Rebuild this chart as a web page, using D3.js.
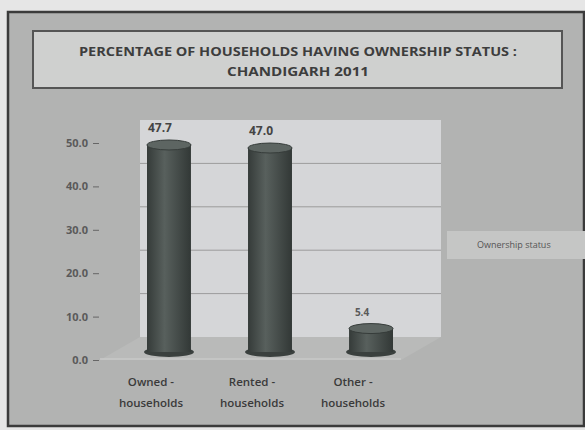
<!DOCTYPE html>
<html>
<head>
<meta charset="utf-8">
<script src="https://cdn.jsdelivr.net/npm/d3@7"></script>
<style>
  body { margin: 0; background: #e6e6e6; }
  svg { display: block; }
</style>
</head>
<body>
<div id="chart"></div>
<script>
// data
const categories = ["Owned - households", "Rented - households", "Other - households"];
const categoryLines = [["Owned -", "households"], ["Rented -", "households"], ["Other -", "households"]];
const values = [47.7, 47.0, 5.4];
const yTicks = [0, 10, 20, 30, 40, 50];
const titleLines = ["PERCENTAGE OF HOUSEHOLDS HAVING OWNERSHIP STATUS :", "CHANDIGARH  2011"];
const legendLabel = "Ownership status";

const W = 585, H = 430;
const depthX = 40, depthY = 23;   // 3d offset of back wall
const barDepth = 8;               // bars sit partway into the depth

const svg = d3.select("#chart")
  .append("svg")
  .attr("width", W)
  .attr("height", H);

// outer frame
svg.append("rect")
  .attr("x", 8).attr("y", 12)
  .attr("width", 576).attr("height", 414)
  .attr("fill", "#b2b3b2")
  .attr("stroke", "#3b3b3b")
  .attr("stroke-width", 2.5);

// title box
svg.append("rect")
  .attr("x", 33).attr("y", 31)
  .attr("width", 529).attr("height", 57)
  .attr("fill", "#cfd0cf")
  .attr("stroke", "#555")
  .attr("stroke-width", 2);

svg.selectAll(".title")
  .data(titleLines)
  .join("text")
  .attr("class", "title")
  .attr("x", 298)
  .attr("y", (d, i) => 56 + i * 20)
  .attr("text-anchor", "middle")
  .attr("font-family", "'Open Sans', sans-serif")
  .attr("font-weight", "bold")
  .attr("font-size", 13)
  .attr("fill", "#3d3d3d")
  .attr("textLength", (d, i) => i === 0 ? 438 : 142)
  .attr("lengthAdjust", "spacingAndGlyphs")
  .text(d => d);

// scales
const y = d3.scaleLinear()
  .domain([0, 50])
  .range([360, 143]);

const x = d3.scaleBand()
  .domain(categories)
  .range([147, 393])
  .paddingInner(0.565)
  .paddingOuter(0);

const wallLeft = 100 + depthX, wallRight = 441;

// floor
svg.append("polygon")
  .attr("points", [
    [100, y(0)], [wallLeft, y(0) - depthY],
    [wallRight, y(0) - depthY], [wallRight - depthX, y(0)]
  ].map(p => p.join(",")).join(" "))
  .attr("fill", "#b9bab9");
svg.append("line")
  .attr("x1", 100).attr("x2", wallRight - depthX)
  .attr("y1", y(0) - 1).attr("y2", y(0) - 1)
  .attr("stroke", "#c8c9c8")
  .attr("stroke-width", 1.5);

// back wall
svg.append("rect")
  .attr("x", wallLeft)
  .attr("y", y(50) - depthY)
  .attr("width", wallRight - wallLeft)
  .attr("height", y(0) - y(50))
  .attr("fill", "#d5d6d8");

svg.selectAll(".grid")
  .data(yTicks.filter(d => d > 0 && d < 50))
  .join("line")
  .attr("class", "grid")
  .attr("x1", wallLeft).attr("x2", wallRight)
  .attr("y1", d => y(d) - depthY).attr("y2", d => y(d) - depthY)
  .attr("stroke", "#9c9c9c")
  .attr("stroke-width", 1);

// y axis
const yAxis = svg.append("g")
  .attr("transform", "translate(99,0)")
  .call(d3.axisLeft(y).tickValues(yTicks).tickFormat(d3.format(".1f")).tickSize(6).tickPadding(5));
yAxis.select(".domain").remove();
yAxis.selectAll("line").attr("stroke", "#666");
yAxis.selectAll("text")
  .attr("font-family", "'Open Sans', sans-serif")
  .attr("font-weight", "bold")
  .attr("font-size", 11)
  .attr("fill", "#5a5a5a");

// cylinder bars
const defs = svg.append("defs");
const grad = defs.append("linearGradient")
  .attr("id", "cyl")
  .attr("x1", "0%").attr("x2", "100%");
grad.append("stop").attr("offset", "0%").attr("stop-color", "#353b39");
grad.append("stop").attr("offset", "40%").attr("stop-color", "#58605d");
grad.append("stop").attr("offset", "100%").attr("stop-color", "#323836");

const bw = x.bandwidth();
const ry = 5;
const bars = svg.selectAll(".bar")
  .data(values)
  .join("g")
  .attr("class", "bar");

bars.append("ellipse")
  .attr("cx", (d, i) => x(categories[i]) + bw / 2)
  .attr("cy", y(0) - barDepth)
  .attr("rx", bw / 2 + 3)
  .attr("ry", ry)
  .attr("fill", "#3a403e");

bars.append("rect")
  .attr("x", (d, i) => x(categories[i]))
  .attr("y", d => y(d) - barDepth)
  .attr("width", bw)
  .attr("height", d => y(0) - y(d))
  .attr("fill", "url(#cyl)");

bars.append("ellipse")
  .attr("cx", (d, i) => x(categories[i]) + bw / 2)
  .attr("cy", d => y(d) - barDepth)
  .attr("rx", bw / 2)
  .attr("ry", ry)
  .attr("fill", "#5d6562")
  .attr("stroke", "#363c3a")
  .attr("stroke-width", 1);

// value labels
svg.selectAll(".val")
  .data(values)
  .join("text")
  .attr("class", "val")
  .attr("x", (d, i) => x(categories[i]) + bw / 2 - 9)
  .attr("y", d => y(d) - 21)
  .attr("text-anchor", "middle")
  .attr("font-family", "'Open Sans', sans-serif")
  .attr("font-weight", "bold")
  .attr("font-size", (d, i) => i === 2 ? 10 : 12)
  .attr("fill", (d, i) => i === 2 ? "#5a5a5a" : "#444")
  .text(d => d3.format(".1f")(d));

// category labels
const cats = svg.selectAll(".cat")
  .data(categoryLines)
  .join("text")
  .attr("class", "cat")
  .attr("text-anchor", "middle")
  .attr("font-family", "'Open Sans', sans-serif")
  .attr("font-weight", 600)
  .attr("font-size", 11.5)
  .attr("fill", "#3a3a3a");
cats.selectAll("tspan")
  .data((d, i) => d.map(t => ({ t, i })))
  .join("tspan")
  .attr("x", d => x(categories[d.i]) + bw / 2 - 18)
  .attr("y", (d, j) => 386 + j * 21)
  .text(d => d.t);

// legend band
svg.append("rect")
  .attr("x", 447).attr("y", 231)
  .attr("width", 138).attr("height", 28)
  .attr("fill", "#c5c6c5");
svg.append("text")
  .attr("x", 477).attr("y", 248)
  .attr("font-family", "'Open Sans', sans-serif")
  .attr("font-size", 9)
  .attr("fill", "#555")
  .text(legendLabel);
</script>
</body>
</html>
